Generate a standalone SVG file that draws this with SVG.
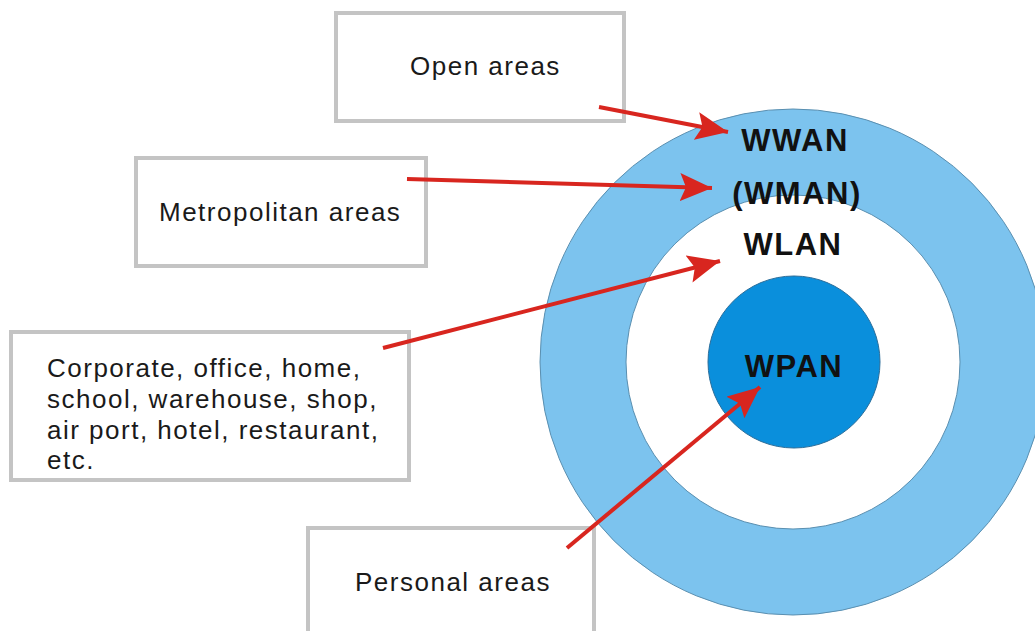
<svg xmlns="http://www.w3.org/2000/svg" width="1035" height="631" viewBox="0 0 1035 631">
<style>
.box{fill:#fff;stroke:#c4c4c4;stroke-width:4}
.lbl{font-family:"Liberation Sans",Arial,sans-serif;font-size:26px;letter-spacing:1.5px;fill:#1a1a1a}
.net{font-family:"Liberation Sans",Arial,sans-serif;font-size:31px;font-weight:bold;letter-spacing:1.5px;fill:#111;text-anchor:middle}
.arr{stroke:#d8261f;stroke-width:4;fill:none;marker-end:url(#ah)}
</style>
<defs>
<marker id="ah" markerUnits="userSpaceOnUse" markerWidth="34" markerHeight="28" refX="32" refY="14" orient="auto">
<path d="M0,0 L32,14 L0,28 L6,14 Z" fill="#d8261f"/>
</marker>
</defs>
<rect width="1035" height="631" fill="#fff"/>
<g id="rings">
<circle cx="793" cy="362" r="253" fill="#7cc3ee" stroke="#5a8fb0" stroke-width="1"/>
<circle cx="793" cy="362" r="167" fill="#fff" stroke="#5a8fb0" stroke-width="1"/>
<circle cx="794" cy="362" r="86" fill="#0a8fdc" stroke="#2a6d9a" stroke-width="1"/>
</g>
<g id="labels">
<text class="net" x="795" y="151">WWAN</text>
<text class="net" x="797" y="204">(WMAN)</text>
<text class="net" x="793" y="255">WLAN</text>
<text class="net" x="794" y="377">WPAN</text>
</g>
<g id="open">
<rect class="box" x="336" y="13" width="288" height="108"/>
<text class="lbl" x="410" y="75">Open areas</text>
</g>
<g id="metro">
<rect class="box" x="136" y="158" width="290" height="108"/>
<text class="lbl" x="159" y="221">Metropolitan areas</text>
</g>
<g id="corporate">
<rect class="box" x="11" y="332" width="398" height="148"/>
<text class="lbl" x="47" y="377">Corporate, office, home,</text>
<text class="lbl" x="47" y="408">school, warehouse, shop,</text>
<text class="lbl" x="47" y="439">air port, hotel, restaurant,</text>
<text class="lbl" x="47" y="469">etc.</text>
</g>
<g id="personal">
<rect class="box" x="308" y="528" width="286" height="110"/>
<text class="lbl" x="355" y="591">Personal areas</text>
</g>
<g id="connectors">
<line class="arr" x1="599" y1="107" x2="728" y2="132"/>
<line class="arr" x1="407" y1="179" x2="712" y2="188"/>
<line class="arr" x1="383" y1="348" x2="720" y2="261"/>
<line class="arr" x1="567" y1="548" x2="760" y2="387"/>
</g>
</svg>
